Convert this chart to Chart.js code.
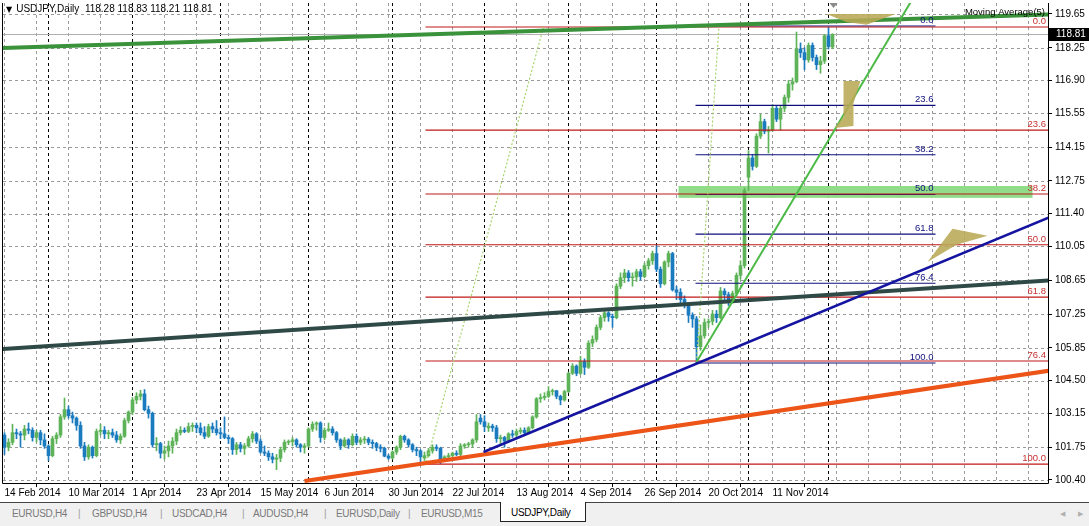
<!DOCTYPE html>
<html>
<head>
<meta charset="utf-8">
<script src="https://cdn.jsdelivr.net/npm/chart.js@4.4.1/dist/chart.umd.min.js"></script>
<style>
html,body{margin:0;padding:0;background:#fff;width:1089px;height:526px;overflow:hidden;font-family:"Liberation Sans",Arial,sans-serif;}
#wrap{position:relative;width:1089px;height:502px;}
canvas{display:block;}
#hdr{position:absolute;left:6px;top:3px;font-size:10px;color:#000;white-space:pre;line-height:12px;}
#hdr .tri{font-family:"DejaVu Sans";font-size:8px;margin-right:4px;}
#tabs{position:absolute;left:0;top:502px;width:1089px;height:24px;background:#f0f0f0;border-top:1px solid #444;box-sizing:border-box;font-size:10px;}
#tabs span{position:absolute;top:5px;color:#7a7a7a;white-space:nowrap;letter-spacing:-0.3px;}
#tabs span.sep{color:#a0a0a0;}
#tabs .active{position:absolute;left:500px;top:-1px;width:84px;height:19px;background:#fff;border:1px solid #222;border-top:none;}
#tabs .active b{position:absolute;left:10px;top:5px;font-weight:normal;color:#000;letter-spacing:-0.3px;}
#tabs span.arr{font-family:"DejaVu Sans";font-size:7px;color:#b0b0b0;top:7px;}
</style>
</head>
<body>
<div id="wrap">
<canvas id="c" width="1089" height="502"></canvas>
<div id="hdr"></div>
</div>
<div id="tabs"></div>
<script>
// ---------------- data ----------------
const symbol = 'USDJPY';
const period = 'Daily';
const dateLabels = ['14 Feb 2014','10 Mar 2014','1 Apr 2014','23 Apr 2014','15 May 2014','6 Jun 2014','30 Jun 2014','22 Jul 2014','13 Aug 2014','4 Sep 2014','26 Sep 2014','20 Oct 2014','11 Nov 2014'];
const priceTicks = [119.65,118.25,116.90,115.55,114.15,112.75,111.40,110.05,108.65,107.25,105.85,104.50,103.15,101.75,100.40];

const opens = [
102.25,101.75,101.95,102.35,102.30,102.25,102.50,102.45,102.15,102.35,
102.05,101.80,101.40,102.10,102.25,103.00,103.30,103.05,102.95,102.65,
101.80,101.35,101.75,101.40,102.40,102.45,102.30,102.35,102.25,102.05,
102.20,102.85,103.20,103.70,103.85,103.95,103.30,103.15,101.85,101.90,
101.50,101.60,101.80,102.00,102.35,102.45,102.40,102.60,102.65,102.55,
102.35,102.20,102.60,102.50,102.35,102.30,102.15,102.10,101.65,101.85,
101.70,101.80,102.10,102.30,102.00,101.55,101.50,101.35,101.25,101.30,
101.65,101.95,101.98,102.05,101.85,101.75,101.80,102.50,102.70,102.75,
102.15,102.45,102.50,102.35,102.05,101.80,102.05,101.85,102.20,101.95,
102.05,102.08,101.95,101.90,101.75,101.70,101.38,101.30,101.55,101.75,
102.20,102.05,101.85,101.65,101.60,101.30,101.40,101.60,101.75,101.70,
101.25,101.35,101.40,101.50,101.45,101.80,101.85,101.88,102.05,102.95,
102.80,102.55,102.62,102.55,102.10,102.15,102.00,102.30,102.25,102.40,
102.45,102.35,102.55,103.00,103.75,103.80,103.85,104.05,104.08,103.85,
103.70,104.05,104.80,105.10,104.80,105.30,105.05,106.05,106.20,106.70,
107.10,107.30,107.15,107.10,108.40,108.75,108.95,108.75,108.78,109.00,
108.80,109.25,109.45,109.75,109.10,108.50,109.40,109.75,108.25,108.15,
107.85,107.60,107.20,107.05,105.90,106.35,106.90,106.95,107.25,107.10,
108.20,108.05,107.80,108.10,108.85,109.25,112.90,113.70,113.35,114.60,
115.20,114.80,114.85,115.75,115.30,115.75,116.20,116.75,116.85,118.20,
118.05,117.75,118.35,117.85,117.55,117.70,118.75,118.28];
const highs = [
102.35,102.10,102.70,102.50,102.40,102.65,102.75,102.55,102.45,102.45,
102.30,101.85,102.20,102.35,103.10,103.78,103.45,103.20,103.00,102.80,
101.95,101.85,101.80,102.50,102.70,102.60,102.45,102.50,102.40,102.30,
102.95,103.25,103.80,104.00,104.10,104.13,103.45,103.20,102.15,101.95,
101.80,102.00,102.15,102.50,102.60,102.55,102.75,102.75,102.75,102.75,
102.60,102.70,102.75,102.85,102.55,103.00,102.25,102.15,101.95,101.95,
101.90,102.20,102.40,102.35,102.10,101.80,101.60,101.50,101.45,101.75,
102.05,102.05,102.15,102.10,101.90,101.90,102.55,102.80,102.80,102.80,
102.55,102.75,102.60,102.40,102.10,102.15,102.10,102.30,102.30,102.15,
102.20,102.15,102.05,101.95,101.85,101.75,101.45,101.60,101.80,102.25,
102.25,102.10,101.90,101.75,101.65,101.55,101.70,101.85,101.85,101.75,
101.40,101.50,101.55,101.60,101.90,101.90,101.95,102.10,103.10,103.10,
103.05,102.75,102.70,102.65,102.25,102.20,102.35,102.45,102.50,102.55,
102.55,102.60,103.05,103.80,103.95,104.00,104.25,104.15,104.10,103.90,
104.10,104.85,105.20,105.15,105.50,105.40,106.15,106.35,106.80,107.20,
107.40,107.35,107.25,108.50,108.95,109.10,109.05,108.95,109.10,109.10,
109.35,109.55,109.85,110.08,109.20,109.45,109.85,109.80,108.40,108.30,
108.00,107.70,107.30,107.15,106.80,107.05,107.05,107.40,107.40,108.35,
108.30,108.15,108.20,108.95,109.45,112.45,114.00,113.85,114.70,115.50,
115.30,115.00,115.90,115.85,115.85,116.30,116.90,117.00,118.90,118.45,
118.25,118.45,118.45,117.95,117.90,118.80,119.10,118.83];
const lows = [
101.45,101.60,101.85,102.10,101.75,102.05,102.30,102.00,101.95,101.85,
101.70,101.20,101.35,101.90,102.15,102.90,102.95,102.75,102.45,101.70,
101.20,101.25,101.30,101.35,102.25,102.10,102.10,102.15,101.95,101.90,
102.15,102.75,103.10,103.55,103.70,103.25,102.95,101.75,101.60,101.30,
101.25,101.35,101.50,101.85,102.25,102.35,102.35,102.40,102.35,102.25,
102.10,102.15,102.35,102.25,102.10,102.10,101.90,101.45,101.45,101.55,
101.45,101.75,101.95,101.90,101.50,101.40,101.20,101.10,100.82,101.15,
101.55,101.85,101.80,101.75,101.55,101.50,101.75,102.40,102.45,101.95,
102.05,102.40,102.25,101.95,101.65,101.75,101.70,101.80,101.85,101.85,
101.90,101.85,101.70,101.60,101.55,101.35,101.25,101.25,101.45,101.65,
101.95,101.75,101.55,101.40,101.10,101.20,101.35,101.50,101.60,101.07,
101.15,101.30,101.30,101.40,101.40,101.70,101.75,101.75,101.95,102.70,
102.40,102.40,102.40,101.95,101.90,101.75,101.95,102.15,102.15,102.30,
102.25,102.30,102.50,102.95,103.60,103.70,103.80,103.90,103.75,103.50,
103.65,104.00,104.75,104.70,104.75,104.75,105.00,105.90,106.10,106.60,
106.95,106.95,106.70,107.05,108.30,108.55,108.60,108.40,108.60,108.65,
108.75,109.10,109.30,109.00,108.35,108.45,109.20,108.20,107.85,107.70,
107.50,106.90,106.70,105.25,105.75,106.25,106.70,106.80,106.90,107.05,
107.80,107.60,107.70,108.00,108.70,109.15,112.35,113.20,113.30,114.50,
114.70,113.90,114.80,115.20,114.85,115.60,116.00,116.50,116.80,117.85,
117.34,117.65,117.70,117.35,117.20,117.60,118.20,118.21];
const closes = [
101.75,101.95,102.35,102.30,102.25,102.50,102.45,102.15,102.35,102.05,
101.80,101.40,102.10,102.25,103.00,103.30,103.05,102.95,102.65,101.80,
101.35,101.75,101.40,102.40,102.45,102.30,102.35,102.25,102.05,102.20,
102.85,103.20,103.70,103.85,103.95,103.30,103.15,101.85,101.90,101.50,
101.60,101.80,102.00,102.35,102.45,102.40,102.60,102.65,102.55,102.35,
102.20,102.60,102.50,102.35,102.30,102.15,102.10,101.65,101.85,101.70,
101.80,102.10,102.30,102.00,101.55,101.50,101.35,101.25,101.30,101.65,
101.95,101.98,102.05,101.85,101.75,101.80,102.50,102.70,102.75,102.15,
102.45,102.50,102.35,102.05,101.80,102.05,101.85,102.20,101.95,102.05,
102.08,101.95,101.90,101.75,101.70,101.38,101.30,101.55,101.75,102.20,
102.05,101.85,101.65,101.60,101.35,101.40,101.60,101.75,101.70,101.25,
101.35,101.40,101.50,101.45,101.80,101.85,101.88,102.05,102.80,102.80,
102.60,102.62,102.55,102.10,102.15,102.00,102.30,102.25,102.40,102.45,
102.35,102.55,103.00,103.75,103.80,103.85,104.05,104.08,103.85,103.70,
104.05,104.80,105.10,104.80,105.30,105.05,106.05,106.20,106.70,107.10,
107.30,107.15,107.10,108.40,108.75,108.95,108.75,108.78,109.00,108.80,
109.25,109.45,109.75,109.10,108.50,109.40,109.75,108.25,108.15,107.85,
107.60,107.20,107.05,105.90,106.35,106.90,106.95,107.25,107.10,108.20,
108.05,107.80,108.10,108.85,109.25,112.35,113.70,113.35,114.60,115.20,
114.80,114.85,115.75,115.30,115.75,116.20,116.75,116.85,118.20,118.05,
117.75,118.35,117.85,117.55,117.70,118.75,118.30,118.81];

// month separators (bar index of first bar of each month)
const monthStartBars = [11,32,54,76,97,120,141,163,186,206];

// trend lines: [barIndex, price] endpoints
const trendTopGreen = [[-1,118.24],[262,119.63]];
const trendSlate    = [[-1,105.80],[262,108.65]];
const trendOrange   = [[75,100.35],[262,104.93]];
const trendBlue     = [[119.75,101.55],[262,111.30]];
const trendGreen    = [[173,105.27],[230,121.10]];
const trendDotted1  = [[105.5,101.14],[134.75,119.11]];
const trendDotted2  = [[173,105.27],[178.6,119.11]];

// fibonacci retracements
const fibLevels = ['0.0','23.6','38.2','50.0','61.8','76.4','100.0'];
const fibRedPrices  = [119.11,114.85,112.21,110.11,107.95,105.31,101.05];
const fibRedBars    = [105.25,262];
const fibBluePrices = [119.15,115.87,113.83,112.19,110.55,108.52,105.23];
const fibBlueBars   = [172.75,232.75];

// highlighted zone
const zoneBars   = [168.5,257];
const zonePrices = [112.05,112.54];

// khaki arrow shapes [barIndex, price]
const shapeTop   = [[205.5,119.65],[222.75,119.65],[215.5,119.20],[210.5,119.32]];
const shapeMid   = [[209.75,116.88],[214,116.88],[212.25,115.97],[212.25,115.02],[207.5,114.94],[209.75,115.39]];
const shapeRight = [[230.75,109.40],[237,110.77],[245.75,110.48],[238,110.11]];

const tabNames = ['EURUSD,H4','GBPUSD,H4','USDCAD,H4','AUDUSD,H4','EURUSD,Daily','EURUSD,M15'];
const activeTab = 'USDJPY,Daily';

// ---------------- styles ----------------
const BULL = '#5eb358', BEAR = '#1b7bbf';
const RED = '#c01818', NAVY = '#10107e';
const FONT = '"Liberation Sans", Arial, sans-serif';
const barsPerLabel = 16, gridStep = 8;

// ---------------- header & tabs ----------------
const last = closes.length - 1;
document.getElementById('hdr').innerHTML =
  '<span class="tri">▼</span>' + symbol + ',' + period + '  ' +
  [opens[last], highs[last], lows[last], closes[last]].map(v => v.toFixed(2)).join(' ');

(function(){
  const tabs = document.getElementById('tabs');
  const lefts = [12,92,172,253,336,421];
  const seps = [78,160,242,324,408];
  let html = '';
  tabNames.forEach((t,k)=>{ html += '<span style="left:'+lefts[k]+'px">'+t+'</span>'; });
  seps.forEach(s=>{ html += '<span class="sep" style="left:'+s+'px">|</span>'; });
  html += '<div class="active"><b>'+activeTab+'</b></div>';
  html += '<span class="arr" style="left:1060px">◀</span><span class="arr" style="left:1078px">▶</span>';
  tabs.innerHTML = html;
})();

// ---------------- datasets ----------------
const idx = closes.map((_, i) => i);
const colors = idx.map(i => closes[i] >= opens[i] ? BULL : BEAR);
const wickData = idx.map(i => ({x: i, y: [lows[i], highs[i]]}));
const bodyData = idx.map(i => ({x: i, y: [opens[i], closes[i]]}));

const mkLine = (pts, color, w, dash, order) => ({
  type: 'line', data: pts.map(([x, y]) => ({x, y})), borderColor: color, borderWidth: w,
  borderDash: dash || [], pointRadius: 0, pointHoverRadius: 0, fill: false, tension: 0, clip: 0, order
});
const fibData = (prices, bars) => prices.flatMap(p => [{x: bars[0], y: p}, {x: bars[1], y: p}, {x: bars[1], y: null}]);

const datasets = [
  {type:'bar', data: wickData, backgroundColor: colors, barThickness: 1, grouped: false, borderWidth: 0, order: 10},
  {type:'bar', data: bodyData, backgroundColor: colors, barThickness: 3, grouped: false, borderWidth: 0, minBarLength: 1, order: 9},
  Object.assign(mkLine([], RED, 1.1, [], 6), {data: fibData(fibRedPrices, fibRedBars), spanGaps: false}),
  Object.assign(mkLine([], NAVY, 1.1, [], 6), {data: fibData(fibBluePrices, fibBlueBars), spanGaps: false}),
  mkLine(trendDotted1, '#a6d46c', 1.2, [2,2], 5),
  mkLine(trendDotted2, '#a6d46c', 1.2, [2,2], 5),
  mkLine(trendTopGreen, '#3a923a', 4, [], 2),
  mkLine(trendSlate, '#2f4a46', 4, [], 2),
  mkLine(trendOrange, '#ec5418', 4, [], 2),
  mkLine(trendBlue, '#1414a0', 2.5, [], 1),
  mkLine(trendGreen, '#4cba46', 2, [], 1)
];

// ---------------- plugin ----------------
const px = (s, v) => s.getPixelForValue(v);
const mtPlugin = {
  id: 'mt',
  beforeDatasetsDraw(chart) {
    const {ctx, chartArea: a, scales: {x, y}} = chart;
    ctx.save();
    ctx.beginPath(); ctx.rect(a.left, a.top, a.right - a.left, a.bottom - a.top); ctx.clip();
    ctx.lineWidth = 1;
    // grid
    ctx.strokeStyle = '#9a9a9a'; ctx.setLineDash([3,3]);
    priceTicks.forEach(v => {
      const py = Math.round(px(y, v)) + 0.5;
      ctx.beginPath(); ctx.moveTo(a.left, py); ctx.lineTo(a.right, py); ctx.stroke();
    });
    for (let i = 0; i <= x.max; i += gridStep) {
      const xx = Math.floor(px(x, i)) + 0.5;
      ctx.beginPath(); ctx.moveTo(xx, a.top); ctx.lineTo(xx, a.bottom); ctx.stroke();
    }
    ctx.strokeStyle = '#000';
    monthStartBars.forEach(i => {
      const xx = Math.floor(px(x, i)) + 0.5;
      ctx.beginPath(); ctx.moveTo(xx, a.top); ctx.lineTo(xx, a.bottom); ctx.stroke();
    });
    ctx.setLineDash([]);
    // current price line
    ctx.strokeStyle = '#b0b0b0';
    const cp = Math.round(px(y, closes[last])) + 0.5;
    ctx.beginPath(); ctx.moveTo(a.left, cp); ctx.lineTo(a.right, cp); ctx.stroke();
    // zone
    ctx.fillStyle = '#90dc88';
    const zx0 = px(x, zoneBars[0]), zx1 = px(x, zoneBars[1]);
    const zy0 = px(y, zonePrices[1]), zy1 = px(y, zonePrices[0]);
    ctx.fillRect(zx0, zy0, zx1 - zx0, zy1 - zy0);
    ctx.restore();
  },
  afterDatasetsDraw(chart) {
    const {ctx, chartArea: a, scales: {x, y}} = chart;
    ctx.save();
    ctx.beginPath(); ctx.rect(a.left, a.top, a.right - a.left, a.bottom - a.top); ctx.clip();
    // khaki shapes
    ctx.fillStyle = 'rgba(184,168,84,0.88)';
    [shapeTop, shapeMid, shapeRight].forEach(poly => {
      ctx.beginPath();
      poly.forEach(([i, p], k) => { const X = px(x, i), Y = px(y, p); k ? ctx.lineTo(X, Y) : ctx.moveTo(X, Y); });
      ctx.closePath(); ctx.fill();
    });
    // fib labels
    ctx.font = '9.5px ' + FONT; ctx.textAlign = 'right'; ctx.textBaseline = 'bottom';
    ctx.fillStyle = '#c83030';
    const rx = Math.min(px(x, fibRedBars[1]), a.right) - 2;
    fibRedPrices.forEach((p, k) => ctx.fillText(fibLevels[k], rx, px(y, p) - 1));
    ctx.fillStyle = NAVY;
    const bx = px(x, fibBlueBars[1]) - 2;
    fibBluePrices.forEach((p, k) => ctx.fillText(fibLevels[k], bx, px(y, p) - 1));
    // indicator label
    ctx.fillStyle = '#000'; ctx.textBaseline = 'middle'; ctx.font = '9.5px ' + FONT;
    ctx.fillText('Moving Average(5)', a.right - 3, a.top + 9);
    // shift marker
    const sx = Math.round(px(x, last)) + 0.5;
    ctx.fillStyle = '#8a8a8a';
    ctx.beginPath(); ctx.moveTo(sx - 4, a.top); ctx.lineTo(sx + 4, a.top); ctx.lineTo(sx, a.top + 5); ctx.closePath(); ctx.fill();
    ctx.restore();
    // frame
    ctx.save();
    ctx.strokeStyle = '#000'; ctx.lineWidth = 1;
    ctx.beginPath();
    ctx.moveTo(a.left - 0.5, a.top); ctx.lineTo(a.left - 0.5, a.bottom + 0.5);
    ctx.lineTo(a.right + 0.5, a.bottom + 0.5); ctx.lineTo(a.right + 0.5, a.top);
    ctx.stroke();
    // current price box
    const cy = Math.round(px(y, closes[last]));
    ctx.fillStyle = '#000';
    ctx.fillRect(a.right + 1, cy - 6, chart.width - a.right - 1, 13);
    ctx.fillStyle = '#fff'; ctx.font = '10px ' + FONT; ctx.textAlign = 'left'; ctx.textBaseline = 'middle';
    ctx.fillText(closes[last].toFixed(2), a.right + 8, cy + 0.5);
    ctx.restore();
  }
};

// ---------------- chart ----------------
new Chart(document.getElementById('c'), {
  type: 'bar',
  data: {datasets},
  plugins: [mtPlugin],
  options: {
    responsive: false, animation: false, devicePixelRatio: 1,
    layout: {padding: {left: 3, top: 3, right: 0, bottom: 0}},
    plugins: {legend: {display: false}, tooltip: {enabled: false}},
    events: [],
    scales: {
      x: {
        type: 'linear', min: -0.375, max: 260.875, offset: false,
        grid: {display: true, drawOnChartArea: false, drawTicks: true, tickLength: 4, color: '#000'},
        border: {display: false},
        ticks: {autoSkip: false, maxRotation: 0, minRotation: 0, align: 'start', padding: 0, color: '#000',
          font: {family: FONT, size: 10}, callback: (v, i) => dateLabels[i]},
        afterBuildTicks: s => { s.ticks = dateLabels.map((_, k) => ({value: k * barsPerLabel})); },
        afterFit: s => { s.height = 19; s.paddingLeft = 0; s.paddingRight = 0; }
      },
      y: {
        type: 'linear', position: 'right', min: 100.27, max: 120.10,
        grid: {display: true, drawOnChartArea: false, drawTicks: true, tickLength: 4, color: '#000'},
        border: {display: false},
        ticks: {padding: 3, color: '#000', font: {family: FONT, size: 10}, callback: v => Number(v).toFixed(2)},
        afterBuildTicks: s => { s.ticks = priceTicks.map(v => ({value: v})); },
        afterFit: s => { s.width = 41; s.paddingTop = 0; s.paddingBottom = 0; }
      }
    }
  }
});
</script>
</body>
</html>
